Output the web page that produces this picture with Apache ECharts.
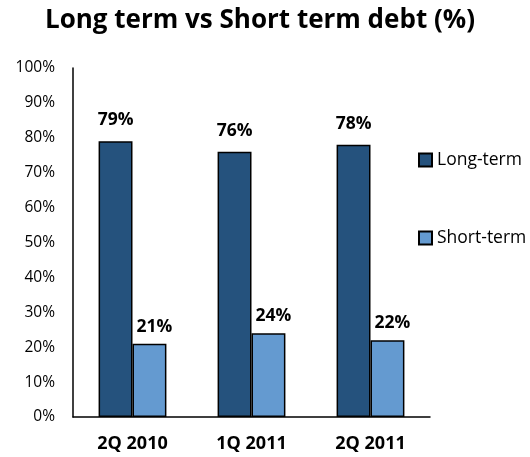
<!DOCTYPE html>
<html>
<head>
<meta charset="utf-8">
<script src="https://cdn.jsdelivr.net/npm/echarts@6/dist/echarts.min.js"></script>
<style>
  html, body { margin: 0; padding: 0; background: #fff; }
  #chart { width: 530px; height: 457px; }
</style>
</head>
<body>
<div id="chart"></div>
<script>
// data
const categories = ["2Q 2010", "1Q 2011", "2Q 2011"];
const longTerm = [79, 76, 78];
const shortTerm = [21, 24, 22];

const font = "Open Sans";
let myChart = echarts.init(document.getElementById("chart"));

myChart.setOption({
  animation: false,
  title: {
    text: "Long term vs Short term debt (%)",
    left: 40,
    top: 3,
    textStyle: { fontFamily: font, fontSize: 26, fontWeight: "bold", color: "#000" }
  },
  legend: {
    orient: "vertical",
    left: 413,
    top: 146,
    itemGap: 60,
    itemWidth: 13,
    itemHeight: 13,
    icon: "rect",
    textStyle: { fontFamily: font, fontSize: 17.5, color: "#000" },
    data: ["Long-term", "Short-term"]
  },
  grid: { left: 73, right: 100, top: 68, bottom: 40 },
  xAxis: {
    type: "category",
    data: categories,
    axisTick: { show: false },
    axisLine: { lineStyle: { color: "#000", width: 1.5 } },
    axisLabel: { margin: 18, fontFamily: font, fontSize: 18, fontWeight: "bold", color: "#000" }
  },
  yAxis: {
    type: "value",
    min: 0,
    max: 100,
    interval: 10,
    splitLine: { show: false },
    axisTick: { show: false },
    axisLine: { show: true, lineStyle: { color: "#000", width: 1.5 } },
    axisLabel: { margin: 18, formatter: "{value}%", fontFamily: font, fontSize: 15.5, color: "#000" }
  },
  series: [
    {
      name: "Long-term",
      type: "bar",
      data: longTerm,
      barGap: "0%",
      barCategoryGap: "43%",
      itemStyle: { color: "#25527D", borderColor: "#000", borderWidth: 1.5 },
      label: {
        show: true, position: "top", distance: 12, formatter: "{c}%",
        fontFamily: font, fontSize: 17.5, fontWeight: "bold", color: "#000"
      }
    },
    {
      name: "Short-term",
      type: "bar",
      data: shortTerm,
      itemStyle: { color: "#649AD0", borderColor: "#000", borderWidth: 1.5 },
      label: {
        show: true, position: "top", distance: 8, offset: [5, 0], formatter: "{c}%",
        fontFamily: font, fontSize: 17.5, fontWeight: "bold", color: "#000"
      }
    }
  ]
});
</script>
</body>
</html>
